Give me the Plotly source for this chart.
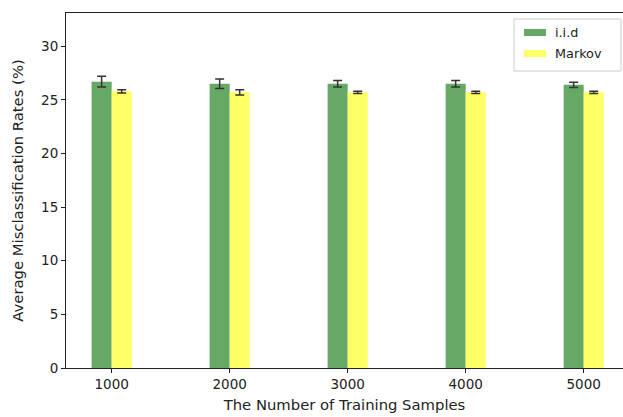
import plotly.graph_objects as go

# Training-set sizes and misclassification rates (%) with error bars
samples = [1000, 2000, 3000, 4000, 5000]
iid_rate = [26.7, 26.5, 26.5, 26.5, 26.4]
iid_err = [0.5, 0.45, 0.3, 0.3, 0.25]
markov_rate = [25.8, 25.7, 25.7, 25.7, 25.7]
markov_err = [0.15, 0.25, 0.1, 0.1, 0.1]
y_ticks = [0, 5, 10, 15, 20, 25, 30]
series_names = ["i.i.d", "Markov"]
series_colors = ["rgb(102,168,102)", "rgb(255,255,102)"]

bar_w = 170
tick_font = dict(family="DejaVu Sans", size=13.5, color="#222")
title_font = dict(family="DejaVu Sans", size=14.8, color="#222")

fig = go.Figure()
fig.add_bar(
    x=samples, y=iid_rate, name=series_names[0],
    width=bar_w, offset=-bar_w,
    marker=dict(color=series_colors[0], line=dict(width=0)),
    error_y=dict(type="data", array=iid_err, color="#333", thickness=1.5, width=4.5),
)
fig.add_bar(
    x=samples, y=markov_rate, name=series_names[1],
    width=bar_w, offset=0,
    marker=dict(color=series_colors[1], line=dict(width=0)),
    error_y=dict(type="data", array=markov_err, color="#333", thickness=1.5, width=4.5),
)

# Legend box with wide patches, drawn in paper coordinates
shapes = [dict(type="rect", xref="paper", yref="paper",
               x0=0.8043, x1=0.9964, y0=0.8366, y1=0.9831,
               line=dict(color="#cccccc", width=1), fillcolor="rgba(255,255,255,0.8)",
               layer="above")]
annotations = []
for i, (name, color) in enumerate(zip(series_names, series_colors)):
    yc = 0.9451 - i * 0.0592
    shapes.append(dict(type="rect", xref="paper", yref="paper",
                       x0=0.8223, x1=0.8618, y0=yc - 0.0099, y1=yc + 0.0099,
                       line=dict(width=0), fillcolor=color, layer="above"))
    annotations.append(dict(text=name, xref="paper", yref="paper",
                            x=0.8743, y=yc, xanchor="left", yanchor="middle",
                            showarrow=False,
                            font=dict(family="DejaVu Sans", size=12.8, color="#222")))

fig.update_layout(
    width=623, height=417,
    margin=dict(l=66, r=0, t=13, b=49),
    paper_bgcolor="white", plot_bgcolor="white",
    font=tick_font,
    barmode="overlay",
    showlegend=False,
    shapes=shapes,
    annotations=annotations,
    xaxis=dict(
        range=[613, 5333],
        tickvals=samples, ticktext=[str(s) for s in samples],
        ticks="outside", ticklen=4, tickcolor="#222",
        tickfont=tick_font,
        showline=True, linecolor="#222", linewidth=1, mirror=True,
        showgrid=False, zeroline=False,
        title=dict(text="The Number of Training Samples", standoff=8, font=title_font),
    ),
    yaxis=dict(
        range=[0, 33.1],
        tickvals=y_ticks,
        ticks="outside", ticklen=4, tickcolor="#222",
        tickfont=tick_font,
        showline=True, linecolor="#222", linewidth=1,
        showgrid=False, zeroline=False,
        title=dict(text="Average Misclassification Rates (%)", standoff=13, font=title_font),
    ),
)

fig.write_html("out.html")
